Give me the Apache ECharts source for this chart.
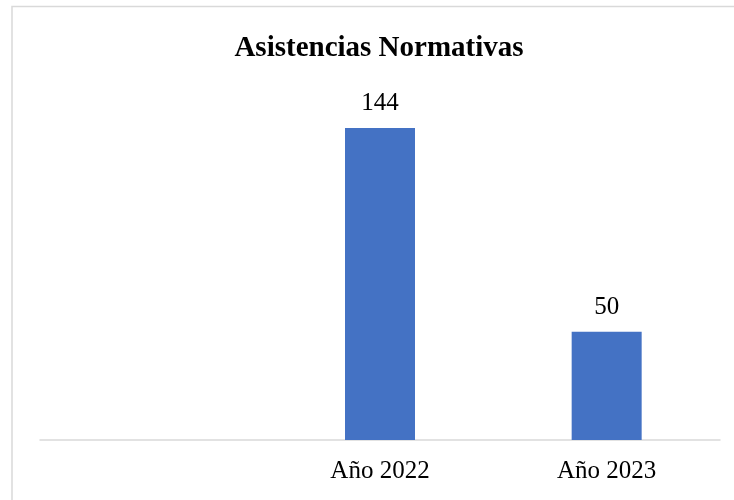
<!DOCTYPE html>
<html>
<head>
<meta charset="utf-8">
<script src="https://cdn.jsdelivr.net/npm/echarts@6/dist/echarts.min.js"></script>
<style>
html,body{margin:0;padding:0;background:#fff;}
#chart{width:734px;height:500px;}
</style>
</head>
<body>
<div id="chart"></div>
<script>
const titleText = 'Asistencias Normativas';
const categories = ['', 'Año 2022', 'Año 2023'];
const values = ['-', 144, 50];

const chart = echarts.init(document.getElementById('chart'), null, {renderer: 'canvas'});
const serif = '"Liberation Serif", "Times New Roman", serif';
chart.setOption({
  animation: false,
  backgroundColor: '#ffffff',
  graphic: [{
    type: 'rect',
    shape: {x: 12, y: 6.5, width: 800, height: 600},
    style: {fill: 'none', stroke: '#d9d9d9', lineWidth: 1.5},
    silent: true
  }],
  title: {
    text: titleText,
    left: 374, top: 29,
    textAlign: 'center',
    textStyle: {fontFamily: serif, fontWeight: 'bold', fontSize: 29, color: '#000'}
  },
  grid: {left: 40, right: 14, top: 93.3, bottom: 60, containLabel: false},
  xAxis: {
    type: 'category',
    data: categories,
    axisLine: {show: true, lineStyle: {color: '#d9d9d9', width: 1.5}},
    axisTick: {show: false},
    axisLabel: {fontFamily: serif, fontSize: 25, color: '#000', margin: 19}
  },
  yAxis: {
    type: 'value', min: 0, max: 160, interval: 20,
    show: false,
    splitLine: {show: false}
  },
  series: [{
    type: 'bar',
    data: values,
    barWidth: 70,
    itemStyle: {color: '#4472C4'},
    label: {show: true, position: 'top', distance: 12, fontFamily: serif, fontSize: 25, color: '#000'}
  }]
});
</script>
</body>
</html>
